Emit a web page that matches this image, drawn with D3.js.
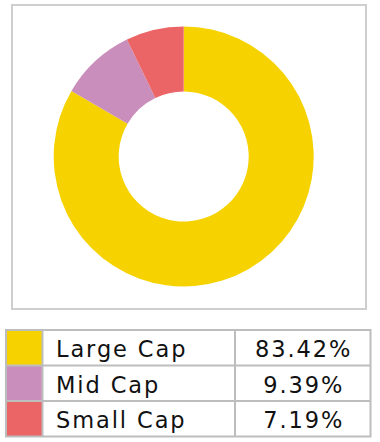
<!DOCTYPE html>
<html><head><meta charset="utf-8">
<script src="https://cdn.jsdelivr.net/npm/d3@7"></script>
<style>html,body{margin:0;padding:0;background:#fff;}svg{display:block;}</style>
</head><body>
<svg id="c" width="380" height="442"></svg>
<script>
const categories = ["Large Cap", "Mid Cap", "Small Cap"];
const values = [83.42, 9.39, 7.19];
const labels = ["83.42%", "9.39%", "7.19%"];
const colors = ["#F6D300", "#C98EBB", "#EC6566"];

const svg = d3.select("#c");
const font = "'DejaVu Sans', sans-serif";

// chart frame
svg.append("rect").attr("x", 12).attr("y", 5).attr("width", 354).attr("height", 304)
  .attr("fill", "#fff").attr("stroke", "#cfcfcf").attr("stroke-width", 2);

const pie = d3.pie().sort(null).value(d => d)(values);
const arc = d3.arc().innerRadius(65).outerRadius(130);
const g = svg.append("g").attr("transform", "translate(183.7,156.5)");
g.selectAll("path").data(pie).join("path")
  .attr("d", arc).attr("fill", (d, i) => colors[i]);

// legend table
const x0 = 6, x1 = 42.5, x2 = 235, x3 = 370.5;
const y = d3.scaleBand().domain(categories).range([330, 436.5]).padding(0);
const tg = svg.append("g");
const ls = 1.9, fs = 22.5;
categories.forEach((c, i) => {
  const yy = y(c), h = y.bandwidth();
  tg.append("rect").attr("x", x0).attr("y", yy).attr("width", x1 - x0).attr("height", h)
    .attr("fill", colors[i]);
  tg.append("text").attr("x", 56).attr("y", yy + 27)
    .attr("font-family", font).attr("font-size", fs).attr("letter-spacing", ls)
    .attr("fill", "#111").text(c);
  tg.append("text").attr("x", (x2 + x3) / 2 + ls / 2).attr("y", yy + 27)
    .attr("text-anchor", "middle").attr("letter-spacing", ls)
    .attr("font-family", font).attr("font-size", fs).attr("fill", "#111").text(labels[i]);
});
// grid lines
const gs = "#bdbdbd";
tg.append("rect").attr("x", x0).attr("y", 330).attr("width", x3 - x0).attr("height", 436.5 - 330)
  .attr("fill", "none").attr("stroke", gs).attr("stroke-width", 2);
[x1, x2].forEach(x => tg.append("line").attr("x1", x).attr("x2", x).attr("y1", 330).attr("y2", 436.5)
  .attr("stroke", gs).attr("stroke-width", 2));
categories.slice(1).forEach(c => tg.append("line").attr("x1", x0).attr("x2", x3)
  .attr("y1", y(c)).attr("y2", y(c)).attr("stroke", gs).attr("stroke-width", 2));
</script>
</body></html>
